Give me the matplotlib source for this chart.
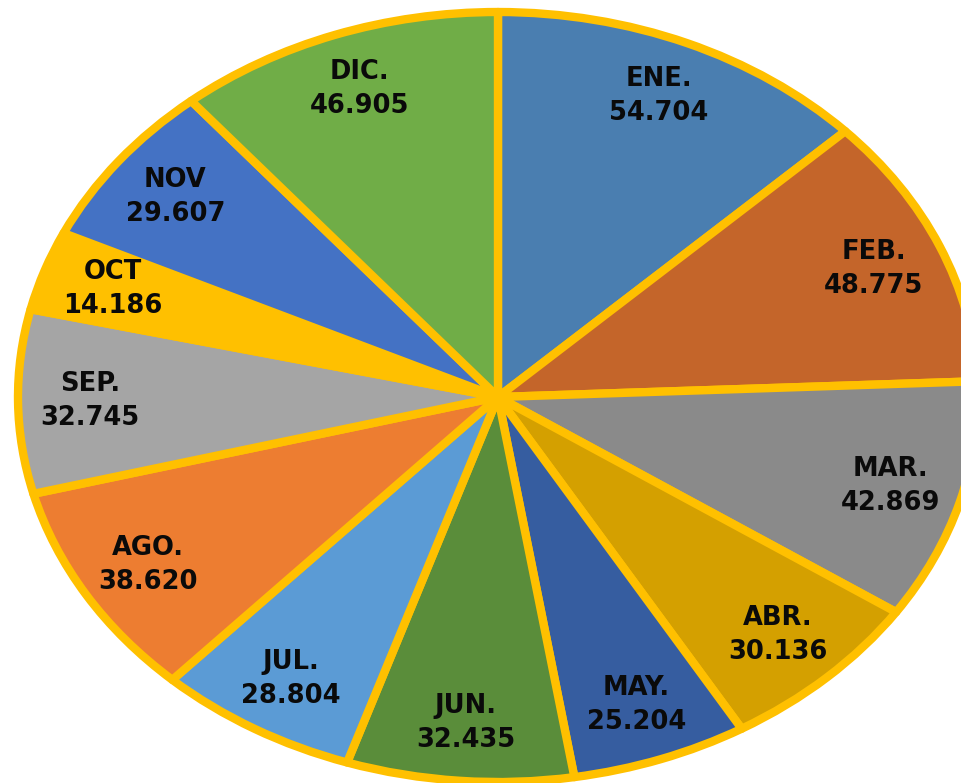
import matplotlib
matplotlib.use("Agg")
import matplotlib.pyplot as plt

# monthly values (shown with '.' as thousands separator)
months = ["ENE.", "FEB.", "MAR.", "ABR.", "MAY.", "JUN.",
          "JUL.", "AGO.", "SEP.", "OCT", "NOV", "DIC."]
values = [54704, 48775, 42869, 30136, 25204, 32435,
          28804, 38620, 32745, 14186, 29607, 46905]
colors = ["#4A7EB0", "#C4652A", "#8A8A8A", "#D4A000", "#365DA0", "#5A8D3A",
          "#5B9BD5", "#ED7D31", "#A5A5A5", "#FFC000", "#4472C4", "#70AD47"]

labels = [f"{m}\n{v:,}".replace(",", ".") for m, v in zip(months, values)]

W, H = 961, 783
fig = plt.figure(figsize=(W / 100, H / 100), dpi=100)
ax = fig.add_axes([0, 0, 1, 1])

wedges, texts = ax.pie(
    values,
    labels=labels,
    colors=colors,
    startangle=90,
    counterclock=False,
    labeldistance=0.85,
    wedgeprops=dict(edgecolor="#FFC000", linewidth=6, joinstyle="round"),
    textprops=dict(fontsize=18.5, fontweight="bold", color="#0a0a0a",
                   family="DejaVu Sans", linespacing=1.4),
)
for t in texts:
    t.set_horizontalalignment("center")
    t.set_verticalalignment("center")

# stretched (elliptical) pie, cropped on the right like the original
cx, cy = 498, 386   # centre in pixels from left / bottom
rx, ry = 480, 385   # radii in pixels
ax.set_aspect("auto")
ax.set_xlim(-cx / rx, (W - cx) / rx)
ax.set_ylim(-cy / ry, (H - cy) / ry)
ax.axis("off")

plt.savefig("out.png", dpi=100)
plt.close()
